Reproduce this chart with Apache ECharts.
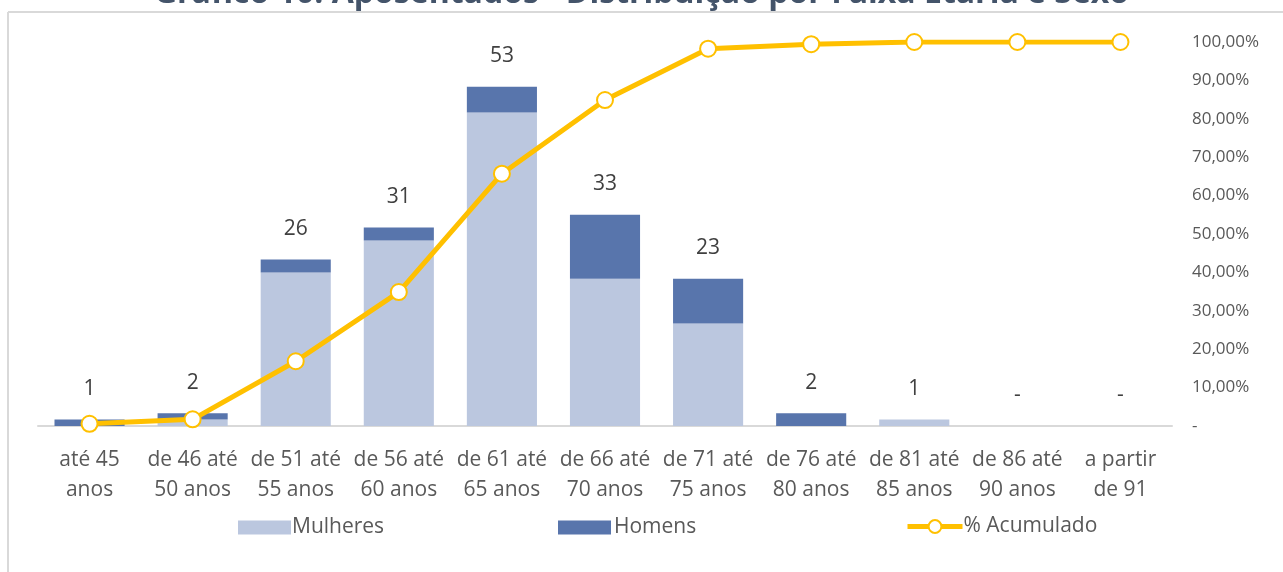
<!DOCTYPE html>
<html>
<head>
<meta charset="utf-8">
<script src="https://cdn.jsdelivr.net/npm/echarts@6/dist/echarts.min.js"></script>
<style>
html,body{margin:0;padding:0;background:#fff;}
#c{width:1283px;height:572px;}
</style>
</head>
<body>
<div id="c"></div>
<script>
const categories = ["até 45\nanos","de 46 até\n50 anos","de 51 até\n55 anos","de 56 até\n60 anos","de 61 até\n65 anos","de 66 até\n70 anos","de 71 até\n75 anos","de 76 até\n80 anos","de 81 até\n85 anos","de 86 até\n90 anos","a partir\nde 91"];
const mulheres = [0, 1, 24, 29, 49, 23, 16, 0, 1, 0, 0];
const homens   = [1, 1, 2, 2, 4, 10, 7, 2, 0, 0, 0];
const totals   = [1, 2, 26, 31, 53, 33, 23, 2, 1, 0, 0];
const acumulado = [0.0058, 0.0174, 0.1686, 0.3488, 0.6570, 0.8488, 0.9826, 0.9942, 1.0, 1.0, 1.0];
const rightTicks = {min: 0, max: 1, interval: 0.1};

const FONT = 'Open Sans';
const chart = echarts.init(document.getElementById('c'), null, {renderer: 'canvas'});
chart.setOption({
  backgroundColor: '#ffffff',
  animation: false,
  textStyle: {fontFamily: FONT},
  title: {
    text: 'Gráfico 10: Aposentados - Distribuição por Faixa Etária e Sexo',
    left: 'center', top: -27,
    textStyle: {fontFamily: FONT, fontSize: 32, fontWeight: 'bold', color: '#44546A'}
  },
  graphic: [
    {type: 'line', shape: {x1: 8, y1: 12, x2: 1283, y2: 12}, style: {stroke: '#D9D9D9', lineWidth: 2}},
    {type: 'line', shape: {x1: 8, y1: 12, x2: 8, y2: 572}, style: {stroke: '#D9D9D9', lineWidth: 2}}
  ],
  grid: {left: 38, right: 111, top: 42, bottom: 146},
  legend: [
    {data: [{name: 'Mulheres', icon: 'rect'}], left: 233, top: 512, itemWidth: 53, itemHeight: 14, itemGap: 4,
     textStyle: {fontSize: 21, color: '#595959', fontFamily: FONT, padding: [0,0,0,-4]}},
    {data: [{name: 'Homens', icon: 'rect'}], left: 553, top: 512, itemWidth: 53, itemHeight: 14,
     textStyle: {fontSize: 21, color: '#595959', fontFamily: FONT, padding: [0,0,0,-2]}},
    {data: ['% Acumulado'], left: 900, top: 511, itemWidth: 55, itemHeight: 16,
     lineStyle: {width: 5},
     textStyle: {fontSize: 21, color: '#595959', fontFamily: FONT, padding: [0,0,0,-4]}}
  ],
  xAxis: {
    type: 'category', data: categories,
    axisLine: {lineStyle: {color: '#D9D9D9', width: 2}},
    axisTick: {show: false},
    axisLabel: {interval: 0, fontSize: 21, color: '#595959', lineHeight: 30, margin: 19, fontFamily: FONT}
  },
  yAxis: [
    {type: 'value', min: 0, max: 60, show: false, splitLine: {show: false}},
    {type: 'value', position: 'right', min: rightTicks.min, max: rightTicks.max, interval: rightTicks.interval,
     splitLine: {show: false}, axisLine: {show: false}, axisTick: {show: false},
     axisLabel: {fontSize: 17, color: '#595959', margin: 20, fontFamily: FONT,
       formatter: v => v === 0 ? '-' : (v * 100).toFixed(2).replace('.', ',') + '%'}}
  ],
  series: [
    {name: 'Mulheres', type: 'bar', stack: 'a', data: mulheres, barWidth: '68%',
     itemStyle: {color: '#BBC7DF'}},
    {name: 'Homens', type: 'bar', stack: 'a', data: homens, barWidth: '68%',
     itemStyle: {color: '#5875AC'},
     label: {show: true, position: 'top', distance: 20, fontSize: 21, color: '#404040', fontFamily: FONT,
       formatter: p => totals[p.dataIndex] === 0 ? '-' : String(totals[p.dataIndex])}},
    {name: '% Acumulado', type: 'line', yAxisIndex: 1, data: acumulado, z: 5,
     symbol: 'circle', symbolSize: 16,
     lineStyle: {color: '#FFC000', width: 5},
     itemStyle: {color: '#ffffff', borderColor: '#FFC000', borderWidth: 2}}
  ]
});
</script>
</body>
</html>
